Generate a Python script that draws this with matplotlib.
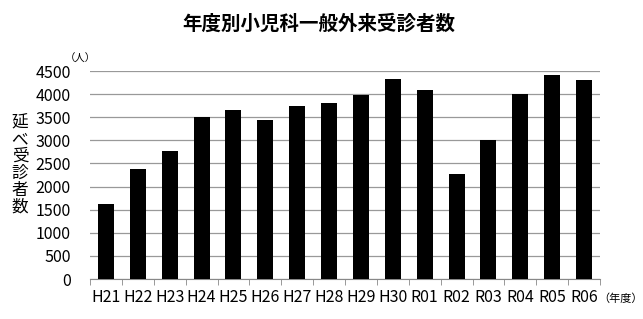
import numpy as np
import matplotlib.pyplot as plt

plt.rcParams['font.family'] = ['Noto Sans CJK JP', 'DejaVu Sans']

years = ['H21', 'H22', 'H23', 'H24', 'H25', 'H26', 'H27', 'H28', 'H29', 'H30',
         'R01', 'R02', 'R03', 'R04', 'R05', 'R06']
patients = [1630, 2380, 2780, 3500, 3650, 3450, 3740, 3810, 3980, 4320,
            4080, 2280, 3000, 4010, 4420, 4300]
yticks = np.arange(0, 4501, 500)

fig = plt.figure(figsize=(6.43, 3.19), dpi=100)
ax = fig.add_axes([90 / 643, 1 - 279 / 319, 510 / 643, 208 / 319])

x = np.arange(len(years))
ax.bar(x, patients, width=0.5, color='black', zorder=3)

ax.set_xlim(-0.5, len(years) - 0.5)
ax.set_ylim(0, 4500)
ax.set_yticks(yticks)
ax.set_yticklabels([str(v) for v in yticks], fontsize=11.5)
ax.set_xticks(x)
ax.set_xticklabels(years, fontsize=11.5)
# ticks between categories on the x axis
ax.set_xticks(np.arange(-0.5, len(years)), minor=True)
ax.tick_params(axis='x', which='major', length=0, pad=7)
ax.tick_params(axis='x', which='minor', length=4, color='#888888')
ax.tick_params(axis='y', length=0, pad=14)

ax.grid(axis='y', color='#999999', linewidth=0.9, zorder=0)
for s in ['top', 'right', 'left']:
    ax.spines[s].set_visible(False)
ax.spines['bottom'].set_color('#888888')

fig.text(319 / 643, 1 - 24 / 319, '年度別小児科一般外来受診者数', ha='center', va='center',
         fontsize=14, fontweight='bold')
fig.text(20 / 643, 1 - 165 / 319, '\n'.join('延べ受診者数'), ha='center', va='center',
         fontsize=12, linespacing=1.0)
fig.text(80 / 643, 1 - 59 / 319, '（人）', ha='center', va='center', fontsize=7.5)
fig.text(598 / 643, 1 - 299 / 319, '（年度）', ha='left', va='center', fontsize=8)

fig.savefig('out.png', dpi=100)
